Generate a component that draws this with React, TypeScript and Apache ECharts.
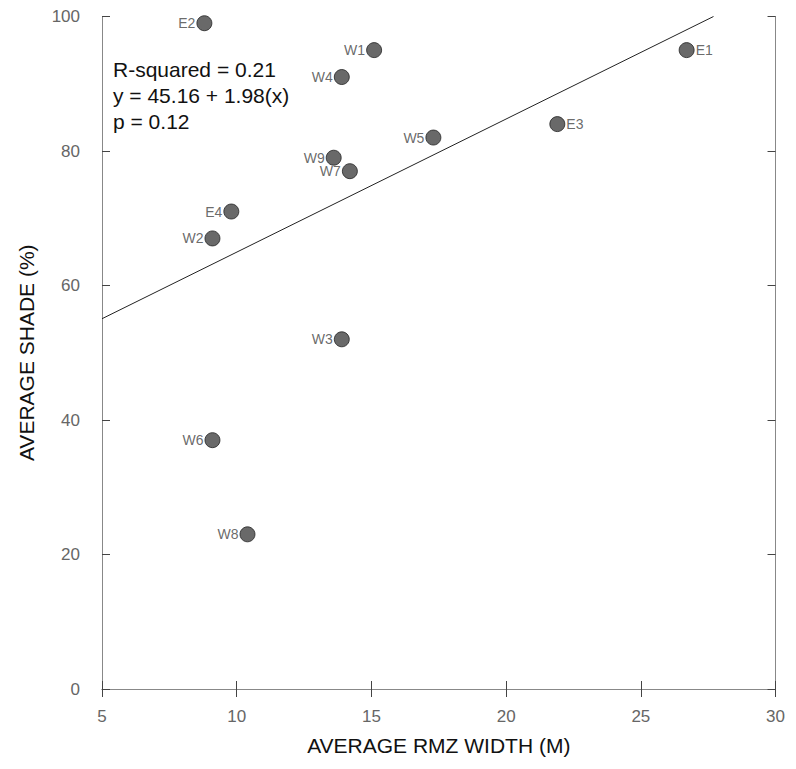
import React, { useEffect, useRef } from "react";
import * as echarts from "echarts";

const siteNames = ["E2", "W1", "W4", "E1", "E3", "W5", "W9", "W7", "E4", "W2", "W3", "W6", "W8"];
const rmzWidth = [8.8, 15.1, 13.9, 26.7, 21.9, 17.3, 13.6, 14.2, 9.8, 9.1, 13.9, 9.1, 10.4];
const avgShade = [99, 95, 91, 95, 84, 82, 79, 77, 71, 67, 52, 37, 23];
const labelRight = ["E1", "E3"];
const regression = { intercept: 45.16, slope: 1.98 };
const statLines = ["R-squared = 0.21", "y = 45.16 + 1.98(x)", "p = 0.12"];

const FONT = "Liberation Sans, Arial, Helvetica, sans-serif";

export default function App() {
  const ref = useRef<HTMLDivElement>(null);
  useEffect(() => {
    if (!ref.current) return;
    const chart = echarts.init(ref.current, undefined, { renderer: "svg" });
    const xMin = 5;
    const xEnd = (100 - regression.intercept) / regression.slope;
    const lineData = [
      [xMin, regression.intercept + regression.slope * xMin],
      [xEnd, 100],
    ];
    const points = siteNames.map((n, i) => ({
      value: [rmzWidth[i], avgShade[i]],
      name: n,
      label: { position: labelRight.includes(n) ? "right" : "left" },
    }));
    const tick = { show: true, inside: true, length: 8, lineStyle: { color: "#444" } };
    const line = { show: true, lineStyle: { color: "#888", width: 1 } };
    const axisLabel = { color: "#666", fontSize: 17, fontFamily: FONT };
    const nameStyle = { color: "#111", fontSize: 21, fontFamily: FONT };
    chart.setOption({
      animation: false,
      backgroundColor: "#fff",
      grid: { left: 92, right: 6, top: 8, bottom: 66, containLabel: false },
      xAxis: [
        {
          type: "value",
          min: 5,
          max: 30,
          interval: 5,
          name: "AVERAGE RMZ WIDTH (M)",
          nameLocation: "middle",
          nameGap: 46,
          nameTextStyle: nameStyle,
          axisLine: line,
          axisTick: tick,
          splitLine: { show: false },
          axisLabel: { ...axisLabel, margin: 19 },
        },
        {
          type: "value",
          min: 5,
          max: 30,
          interval: 5,
          position: "top",
          axisLine: line,
          axisTick: tick,
          axisLabel: { show: false },
          splitLine: { show: false },
        },
      ],
      yAxis: [
        {
          type: "value",
          min: 0,
          max: 100,
          interval: 20,
          name: "AVERAGE SHADE (%)",
          nameLocation: "middle",
          nameGap: 65,
          nameTextStyle: nameStyle,
          axisLine: line,
          axisTick: tick,
          splitLine: { show: false },
          axisLabel: { ...axisLabel, margin: 22 },
        },
        {
          type: "value",
          min: 0,
          max: 100,
          interval: 20,
          position: "right",
          axisLine: line,
          axisTick: tick,
          axisLabel: { show: false },
          splitLine: { show: false },
        },
      ],
      graphic: statLines.map((t, i) => ({
        type: "text",
        x: 105,
        y: 61 + i * 26,
        style: {
          text: t,
          fill: "#111",
          fontSize: 21,
          fontFamily: FONT,
          verticalAlign: "middle",
        },
      })),
      series: [
        {
          type: "line",
          data: lineData,
          symbol: "none",
          lineStyle: { color: "#222", width: 1 },
          silent: true,
        },
        {
          type: "scatter",
          data: points,
          symbolSize: 15,
          itemStyle: { color: "#444", borderColor: "#222", borderWidth: 1 },
          label: {
            show: true,
            formatter: "{b}",
            color: "#444",
            fontSize: 14,
            fontFamily: FONT,
            distance: 1,
          },
        },
      ],
    });
    return () => chart.dispose();
  }, []);
  return <div ref={ref} style={{ width: 780, height: 753 }} />;
}
